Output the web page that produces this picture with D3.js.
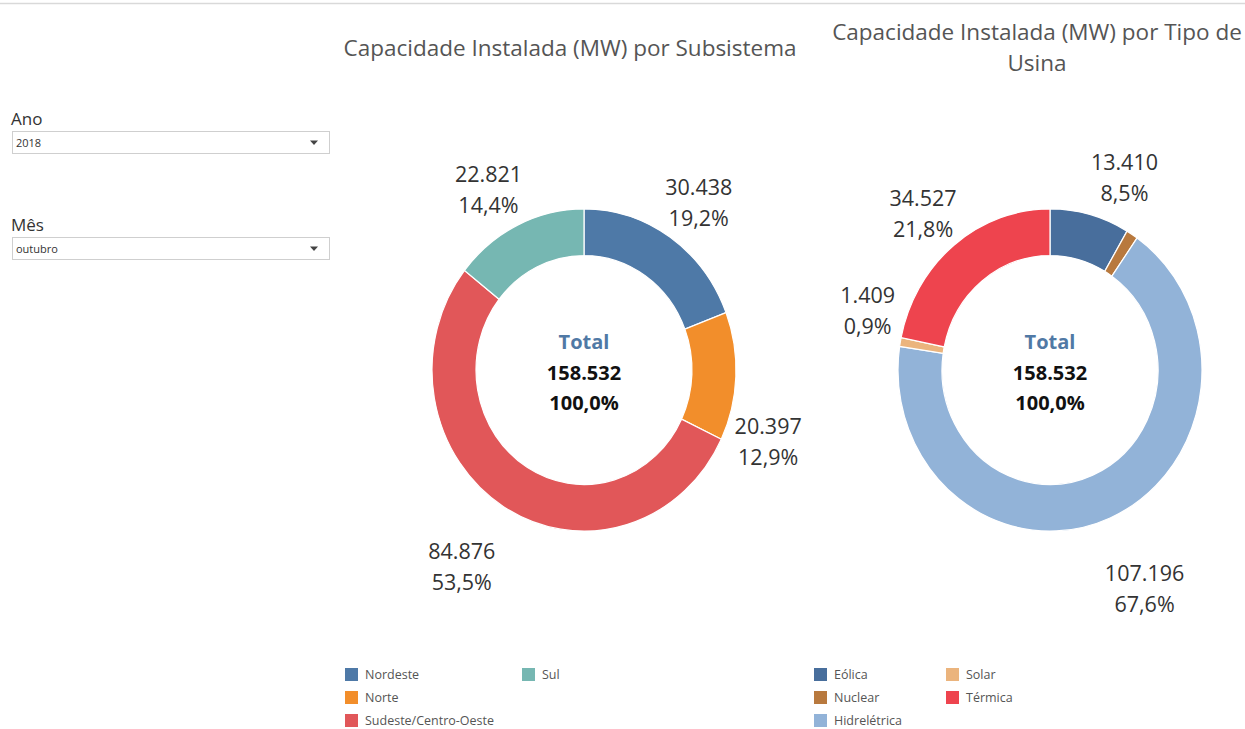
<!DOCTYPE html>
<html>
<head>
<meta charset="utf-8">
<script src="https://cdn.jsdelivr.net/npm/d3@7"></script>
<style>
  body { margin: 0; background: #fff; }
  svg { display: block; font-family: "Open Sans", "Noto Sans", sans-serif; }
</style>
</head>
<body>
<div id="chart"></div>
<script>
    // dados (MW) - outubro 2018
    var subsistemas = ['Nordeste', 'Norte', 'Sudeste/Centro-Oeste', 'Sul'];
    var subsistemaMW = [30438, 20397, 84876, 22821];
    var subsistemaCores = ['#4e79a7', '#f28e2b', '#e15759', '#76b7b2'];

    var tipos = ['Eólica', 'Nuclear', 'Hidrelétrica', 'Solar', 'Térmica'];
    var tipoMW = [13410, 1990, 107196, 1409, 34527];
    var tipoCores = ['#486e9c', '#b8793e', '#92b3d8', '#ebb47d', '#ee444e'];

    var anos = ['2018'];
    var meses = ['outubro'];

    var width = 1245, height = 729;

    var ptBR = d3.formatLocale({ decimal: ',', thousands: '.', grouping: [3], currency: ['R$', ''] });
    var fmtNum = ptBR.format(',d');
    var fmtPct = ptBR.format('.1%');

    var svg = d3.select('#chart').append('svg')
        .attr('width', width)
        .attr('height', height);

    // linha cinza no topo
    svg.append('line')
        .attr('x1', 0).attr('x2', width)
        .attr('y1', 3.5).attr('y2', 3.5)
        .attr('stroke', '#d9d9d9').attr('stroke-width', 1.5);

    // filtros (Ano / Mês)
    var filtro = function (titulo, valor, y) {
        var g = svg.append('g').attr('transform', 'translate(0,' + y + ')');
        g.append('text').attr('x', 11).attr('y', 0)
            .attr('font-size', 17).attr('fill', '#333').text(titulo);
        g.append('rect').attr('x', 12.5).attr('y', 6.5).attr('width', 317).attr('height', 22)
            .attr('fill', '#fff').attr('stroke', '#cfcfcf');
        g.append('text').attr('x', 16).attr('y', 22)
            .attr('font-size', 11).attr('fill', '#333').text(valor);
        g.append('path').attr('d', 'M310,15.5 L318,15.5 L314,20 Z').attr('fill', '#444');
    };
    filtro('Ano', anos[0], 125);
    filtro('Mês', meses[0], 231);

    var outerR = 152, innerR = 108, squash = 1.06;
    var pie = d3.pie().sort(null);
    var arc = d3.arc().innerRadius(innerR).outerRadius(outerR);

    // distancia do rótulo ao centro, maior embaixo (como o Tableau faz)
    var labelDist = function (a) {
        var c = Math.cos(a);
        return 190 + (c > 0 ? 18 : 58) * c * c;
    };

    var donut = function (cfg) {
        var total = d3.sum(cfg.values);
        var arcs = pie(cfg.values);

        var g = svg.append('g').attr('transform', 'translate(' + cfg.cx + ',' + cfg.cy + ')');

        g.append('g').attr('transform', 'scale(1,' + squash + ')')
            .selectAll('path')
            .data(arcs)
            .enter()
            .append('path')
            .attr('d', arc)
            .attr('fill', function (d, i) { return cfg.colors[i]; })
            .attr('stroke', '#fff')
            .attr('stroke-width', 1.2);

        // rótulos externos
        var labels = g.selectAll('.rotulo')
            .data(arcs.filter(function (d, i) { return cfg.hidden.indexOf(cfg.names[i]) < 0; }))
            .enter()
            .append('g')
            .attr('class', 'rotulo')
            .attr('transform', function (d) {
                var nudge = (cfg.nudge[cfg.names[d.index]] || 0) * Math.PI / 180;
                var a = (d.startAngle + d.endAngle) / 2 + nudge;
                var r = labelDist(a);
                return 'translate(' + (r * Math.sin(a)) + ',' + (-r * Math.cos(a)) + ')';
            });
        labels.append('text')
            .attr('text-anchor', 'middle').attr('y', -8)
            .attr('font-size', 21.5).attr('fill', '#333')
            .text(function (d) { return fmtNum(d.value); });
        labels.append('text')
            .attr('text-anchor', 'middle').attr('y', 23)
            .attr('font-size', 21.5).attr('fill', '#333')
            .text(function (d) { return fmtPct(d.value / total); });

        // total no centro
        g.append('text').attr('text-anchor', 'middle').attr('y', -21)
            .attr('font-size', 20).attr('font-weight', 'bold').attr('fill', '#5079a5')
            .text('Total');
        g.append('text').attr('text-anchor', 'middle').attr('y', 10)
            .attr('font-size', 20).attr('font-weight', 'bold').attr('fill', '#111')
            .text(fmtNum(total));
        g.append('text').attr('text-anchor', 'middle').attr('y', 40)
            .attr('font-size', 20).attr('font-weight', 'bold').attr('fill', '#111')
            .text(fmtPct(1));

        // título
        var title = svg.append('text')
            .attr('text-anchor', 'middle')
            .attr('font-size', 22.5).attr('fill', '#555');
        cfg.title.forEach(function (t, i) {
            title.append('tspan').attr('x', cfg.titleX).attr('y', cfg.titleY + i * 31).text(t);
        });

        // legenda em colunas de 3 linhas
        var legend = svg.selectAll('.legenda-' + cfg.key)
            .data(cfg.names)
            .enter()
            .append('g')
            .attr('class', 'legenda-' + cfg.key)
            .attr('transform', function (d, i) {
                var col = Math.floor(i / 3), row = i % 3;
                return 'translate(' + (cfg.legendX + col * cfg.legendColW) + ',' + (668 + row * 23) + ')';
            });
        legend.append('rect')
            .attr('width', 13).attr('height', 13)
            .attr('fill', function (d, i) { return cfg.colors[i]; });
        legend.append('text')
            .attr('x', 20).attr('y', 11)
            .attr('font-size', 12.5).attr('fill', '#555')
            .text(function (d) { return d; });
    };

    donut({
        key: 'sub', cx: 584, cy: 370,
        names: subsistemas, values: subsistemaMW, colors: subsistemaCores,
        hidden: [], nudge: { 'Norte': 19, 'Sul': -2 },
        title: ['Capacidade Instalada (MW) por Subsistema'], titleX: 570, titleY: 56,
        legendX: 345, legendColW: 177
    });

    donut({
        key: 'tipo', cx: 1050, cy: 370,
        names: tipos, values: tipoMW, colors: tipoCores,
        hidden: ['Nuclear'], nudge: { 'Eólica': 6, 'Solar': 8 },
        title: ['Capacidade Instalada (MW) por Tipo de', 'Usina'], titleX: 1037, titleY: 40,
        legendX: 814, legendColW: 132
    });
</script>
</body>
</html>
